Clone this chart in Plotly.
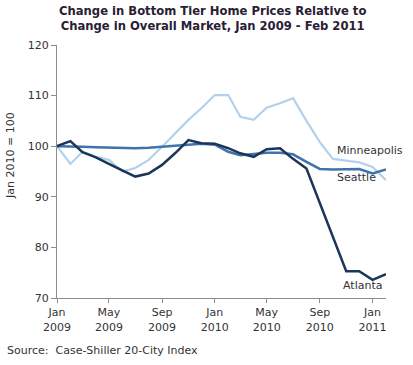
import plotly.graph_objects as go
import pandas as pd

months = [d.strftime("%Y-%m-%d") for d in pd.date_range("2009-01-01", "2011-02-01", freq="MS")]

atlanta = [100.0, 101.0, 98.8, 97.8, 96.5, 95.3, 94.0, 94.6, 96.3, 98.6, 101.2, 100.6,
           100.5, 99.6, 98.6, 97.9, 99.4, 99.6, 97.5, 95.6, 88.8, 82.0, 75.3, 75.3,
           73.6, 74.7]
seattle = [100.0, 100.0, 99.9, 99.8, 99.7, 99.6, 99.6, 99.7, 99.9, 100.1, 100.3, 100.5,
           100.3, 98.9, 98.2, 98.4, 98.7, 98.7, 98.4, 96.9, 95.5, 95.4, 95.4, 95.5,
           94.6, 95.4]
minneapolis = [100.0, 96.5, 98.9, 97.9, 97.3, 95.0, 95.7, 97.3, 99.9, 102.5, 105.2, 107.5,
               110.1, 110.1, 105.8, 105.2, 107.6, 108.5, 109.5, 105.0, 100.8, 97.5, 97.2, 96.8,
               95.9, 93.3]

tick_vals = ["2009-01-01", "2009-05-01", "2009-09-01", "2010-01-01", "2010-05-01", "2010-09-01", "2011-01-01"]
tick_text = ["Jan<br>2009", "May<br>2009", "Sep<br>2009", "Jan<br>2010", "May<br>2010", "Sep<br>2010", "Jan<br>2011"]

FONT = "DejaVu Sans"
W, H = 413, 365
ML, MR, MT, MB = 57, 27, 45, 67

def px(xp):
    return (xp - ML) / (W - ML - MR)

def py(yp):
    return (H - MB - yp) / (H - MT - MB)

fig = go.Figure()
fig.add_trace(go.Scatter(x=months, y=minneapolis, mode="lines", name="Minneapolis",
                         line=dict(color="#b3d1ec", width=2.2)))
fig.add_trace(go.Scatter(x=months, y=seattle, mode="lines", name="Seattle",
                         line=dict(color="#3e74aa", width=2.5)))
fig.add_trace(go.Scatter(x=months, y=atlanta, mode="lines", name="Atlanta",
                         line=dict(color="#1b3658", width=2.5)))

fig.update_layout(
    width=W, height=H,
    margin=dict(l=ML, r=MR, t=MT, b=MB),
    paper_bgcolor="white", plot_bgcolor="white",
    showlegend=False,
    font=dict(family=FONT, size=11, color="#333333"),
    xaxis=dict(range=["2009-01-01", "2011-02-01"], tickvals=tick_vals, ticktext=tick_text,
               showgrid=False, showline=True, linecolor="#8c8c8c", linewidth=1,
               ticks="outside", ticklen=4, tickcolor="#8c8c8c", zeroline=False,
               automargin=False,
               tickfont=dict(family=FONT, size=11, color="#333333")),
    yaxis=dict(range=[70, 120], tickvals=[70, 80, 90, 100, 110, 120],
               showgrid=False, showline=True, linecolor="#8c8c8c", linewidth=1,
               ticks="outside", ticklen=5, tickcolor="#8c8c8c", zeroline=False,
               automargin=False,
               tickfont=dict(family=FONT, size=11, color="#333333")),
)

fig.add_annotation(text="<b>Change in Bottom Tier Home Prices Relative to<br>Change in Overall Market, Jan 2009 - Feb 2011</b>",
                   x=px(212), y=py(19), xref="paper", yref="paper", showarrow=False,
                   xanchor="center", yanchor="middle", align="center",
                   font=dict(family=FONT, size=11.6, color="#2a2035"))
fig.add_annotation(text="Jan 2010 = 100", x=px(10), y=py(156), xref="paper", yref="paper",
                   showarrow=False, textangle=-90, xanchor="center", yanchor="middle",
                   font=dict(family=FONT, size=11, color="#333333"))
fig.add_annotation(text="Minneapolis", x="2010-10-01", y=minneapolis[21] + 1.6, showarrow=False,
                   xanchor="left", yanchor="middle", xshift=2,
                   font=dict(family=FONT, size=11, color="#333333"))
fig.add_annotation(text="Seattle", x="2010-10-01", y=seattle[21] - 1.5, showarrow=False,
                   xanchor="left", yanchor="middle", xshift=2,
                   font=dict(family=FONT, size=11, color="#333333"))
fig.add_annotation(text="Atlanta", x="2010-11-01", y=atlanta[22] - 2.8, showarrow=False,
                   xanchor="left", yanchor="middle", xshift=-5,
                   font=dict(family=FONT, size=11, color="#333333"))
fig.add_annotation(text="Source:  Case-Shiller 20-City Index", x=px(5), y=py(350),
                   xref="paper", yref="paper", showarrow=False, xanchor="left", yanchor="middle",
                   font=dict(family=FONT, size=11, color="#333333"))

fig.write_html("out.html", config={"displayModeBar": False},
               post_script="document.body.style.margin='0';document.body.style.padding='0';")
